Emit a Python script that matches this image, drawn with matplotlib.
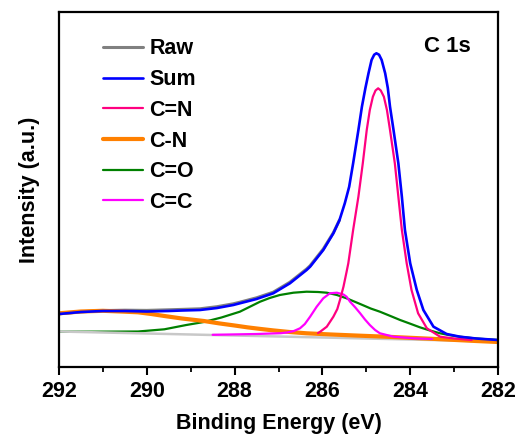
import matplotlib.pyplot as plt
from matplotlib.ticker import MultipleLocator

plt.rcParams['font.family'] = ['Liberation Sans', 'DejaVu Sans']
plt.rcParams['font.weight'] = 'bold'

# values (binding energy in eV, intensity in a.u.)
bg_x = [292, 282]
bg_y = [35.5, 25.5]

raw_x = [292, 291.5, 291, 290.5, 290, 289.5, 289.2, 288.79, 288.4, 288.03, 287.88, 287.5,
         287.12, 286.74, 286.36, 286.28, 285.98, 285.75, 285.61]
raw_y = [53.2, 55.2, 56.4, 56.8, 56.6, 57.2, 57.6, 58.2, 60.3, 63.2, 64.8, 69.2,
         74.8, 84.8, 98, 101.3, 118, 134.3, 147]

sum_x = [292, 291.5, 291, 290.5, 290, 289.5, 289.2, 288.79, 288.4, 288.03, 287.88, 287.5,
         287.12, 286.74, 286.36, 286.28, 285.98, 285.75, 285.61, 285.49, 285.39, 285.30,
         285.18, 285.1, 285.02, 284.95, 284.88, 284.82, 284.77, 284.71, 284.65, 284.57,
         284.51, 284.46, 284.38, 284.27, 284.19, 284.12, 284.0, 283.85, 283.70, 283.47,
         283.17, 282.87, 282.5, 282.0]
sum_y = [53, 55, 56, 56, 55.5, 56, 56.5, 57, 59, 62, 63.7, 68,
         73.7, 83.7, 97, 100.3, 117, 133.7, 147, 163.7, 180.3, 203.7,
         237, 260.3, 279, 293.7, 307, 312.3, 313.7, 312.3, 307, 293.7,
         279, 260.3, 237, 203.7, 170.3, 137, 103.7, 77, 57, 40.3,
         33, 30.3, 28.5, 27]

cn2_x = [286.1, 286.05, 285.9, 285.75, 285.66, 285.6, 285.52, 285.45, 285.41, 285.30,
         285.18, 285.08, 284.99, 284.92, 284.85, 284.79, 284.73, 284.67, 284.6, 284.53,
         284.46, 284.35, 284.27, 284.19, 284.08, 283.97, 283.82, 283.62, 283.32, 283.0,
         282.6]
cn2_y = [34, 35.3, 40.3, 50.3, 58, 67, 80.3, 95, 103.7, 137,
         170.3, 203.7, 237, 257, 270.3, 276.5, 278.7, 276.5, 270.3, 257,
         237, 203.7, 170.3, 137, 103.7, 77, 53.7, 38.7, 30.3, 28.5,
         27]

cn_x = [292, 291.5, 291, 290.6, 290.2, 289.9, 289.6, 289.2, 288.7, 288.35, 288.0, 287.7,
        287.4, 287.12, 286.75, 286.36, 285.8, 285.14, 284.5, 283.5, 282.5, 282]
cn_y = [53.7, 55.5, 56.2, 55.5, 54.7, 53, 51, 48.5, 46, 43.6, 41.5, 39.6,
        38, 36.6, 35, 33.7, 32.5, 31.3, 30.2, 28.2, 26, 25]

co_x = [292, 290.8, 290.2, 289.6, 289.1, 288.7, 288.3, 287.88, 287.42, 287.2, 286.97, 286.66,
        286.36, 286.1, 285.9, 285.67, 285.45, 285.14, 284.9, 284.69, 284.45, 284.23, 284.0,
        283.78, 283.55, 283.32, 283.1, 282.87, 282.5, 282]
co_y = [35.3, 35.4, 35.5, 37.7, 42, 45, 49.5, 55.3, 65.3, 69, 72, 74.3,
        75.3, 75, 74.3, 72, 68.7, 63, 58.5, 55.3, 51, 47, 43.3,
        39.7, 36.5, 33.7, 31.8, 30.3, 28.5, 27]

cc_x = [288.5, 287.5, 286.95, 286.81, 286.65, 286.51, 286.4, 286.28, 286.13, 285.98, 285.83,
        285.67, 285.52, 285.45, 285.37, 285.25, 285.14, 285.03, 284.92, 284.8, 284.69,
        284.38, 283.93, 283.5]
cc_y = [32.2, 33, 33.8, 34.5, 36, 38.7, 43, 50.3, 60.3, 68.7, 73.7,
        74.3, 72.5, 70.3, 65.3, 59.5, 53.7, 47.5, 42, 37, 33.7,
        30.3, 28.7, 28]

fig = plt.figure(figsize=(5.2, 4.41), dpi=100)
ax = fig.add_axes([59 / 520, 1 - 367 / 441, 439 / 520, 355 / 441])

kw = dict(solid_joinstyle='round', solid_capstyle='round')
ax.plot(raw_x, raw_y, color='#808080', lw=2.2, label='Raw', **kw)
ax.plot(co_x, co_y, color='#008000', lw=1.6, label='C=O', **kw)
ax.plot(bg_x, bg_y, color='#c8c8c8', lw=1.8)
ax.plot(cn_x, cn_y, color='#ff8000', lw=3, label='C-N', **kw)
ax.plot(cc_x, cc_y, color='#ff00ff', lw=1.6, label='C=C', **kw)
ax.plot(cn2_x, cn2_y, color='#ff0080', lw=1.6, label='C=N', **kw)
ax.plot(sum_x, sum_y, color='#0000ff', lw=1.9, label='Sum', **kw)

ax.set_xlim(292, 282)
ax.set_ylim(0, 355)
ax.xaxis.set_major_locator(MultipleLocator(2))
ax.xaxis.set_minor_locator(MultipleLocator(1))
ax.tick_params(axis='x', which='major', direction='out', length=6, width=1.5,
               labelsize=15.5, pad=4)
ax.tick_params(axis='x', which='minor', direction='out', length=3.5, width=1.3)
ax.set_yticks([])
for s in ax.spines.values():
    s.set_linewidth(1.6)

ax.set_xlabel('Binding Energy (eV)', fontsize=15.5, fontweight='bold', labelpad=8)
ax.set_ylabel('Intensity (a.u.)', fontsize=15.5, fontweight='bold', labelpad=14)

ax.text((447 - 59) / 439, (367 - 46.5) / 355, 'C 1s', fontsize=16, fontweight='bold',
        ha='center', va='center', transform=ax.transAxes)

h, l = ax.get_legend_handles_labels()
order = ['Raw', 'Sum', 'C=N', 'C-N', 'C=O', 'C=C']
hd = dict(zip(l, h))
ax.legend([hd[k] for k in order], order, loc='upper left',
          bbox_to_anchor=((103 - 59) / 439, (367 - 38.5) / 355), frameon=False,
          fontsize=15.5, borderpad=0, borderaxespad=0, handlelength=1.85,
          handletextpad=0.3, labelspacing=0.45)

fig.savefig('out.png', dpi=100)
